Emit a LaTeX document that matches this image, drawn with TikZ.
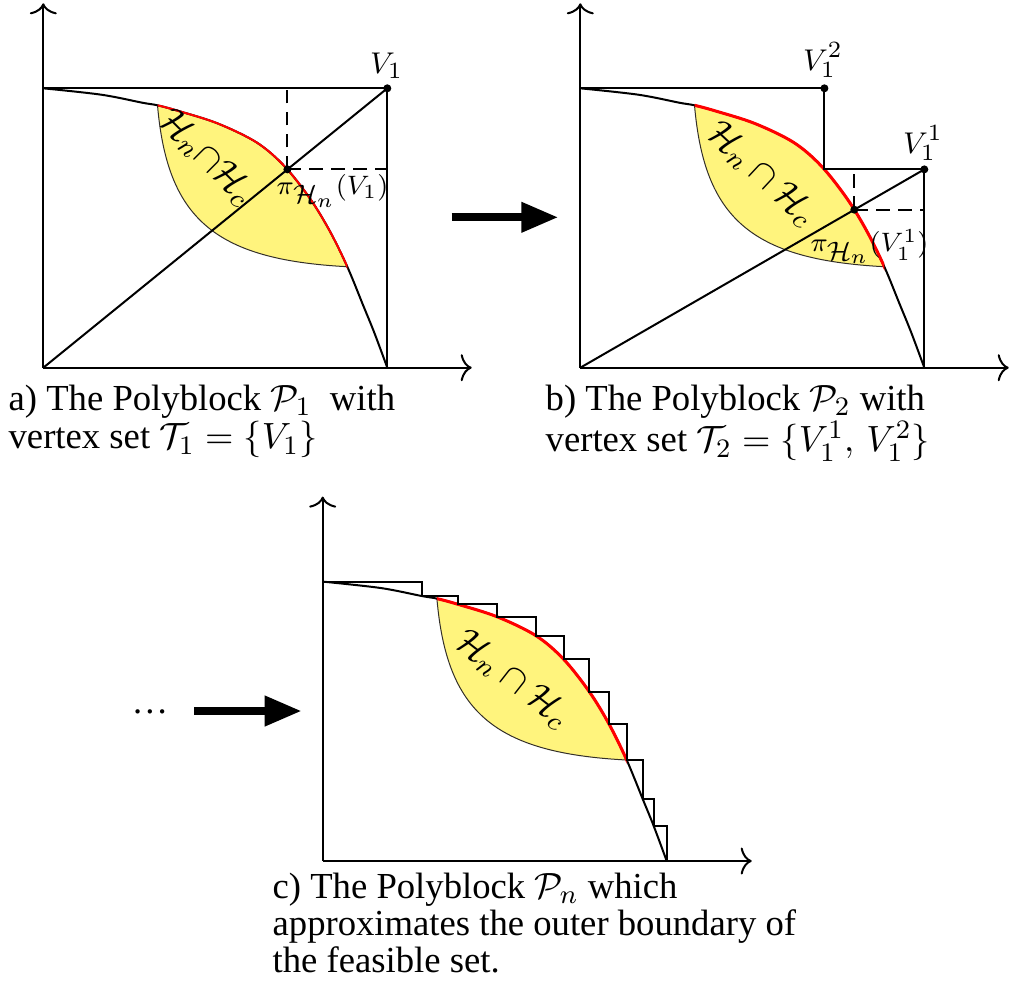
\documentclass[tikz,border=0pt]{standalone}
\usepackage[no-math]{fontspec}
\setmainfont{Liberation Serif}
\usetikzlibrary{arrows.meta,intersections,calc}
\definecolor{lensyellow}{RGB}{255,244,125}
\begin{document}
\begin{tikzpicture}[x=0.3pt,y=-0.3pt,
  axis/.style={line width=0.6pt,-{To[length=3.3pt,width=8.1pt]}},
  edge/.style={line width=0.6pt},
  dashline/.style={line width=0.6pt,dash pattern=on 4pt off 2.6pt},
  dot/.style={circle,fill=black,inner sep=0pt,minimum size=2.4pt},
  lensline/.style={line width=0.3pt,draw=black!85!olive},
  redline/.style={red,line width=0.9pt},
  bigarrow/.style={line width=2.4pt,-{Triangle[length=11.1pt,width=8.6pt]}},
  lbl/.style={inner sep=0pt,font=\fontsize{9.5}{11}\selectfont},
  plbl/.style={inner sep=0pt,font=\fontsize{8.5}{10}\selectfont},
  lenslbl/.style={inner sep=0pt,font=\fontsize{10.8}{13}\selectfont},
  captionbox/.style={inner sep=0pt,anchor=north west,align=left,font=\fontsize{11}{10}\selectfont},
  fullcurve/.style={insert path={plot[smooth,tension=0.55] coordinates {(0,279.4) (58,273) (99,265) (114.2,262.4) (135.3,256.7) (174.3,244.3) (213.3,225.3) (241,201.7) (266.6,169.3) (286.3,137) (304,101) (320,62) (331,35) (344,0)}}},
  lowercurve/.style={insert path={(114.2,262.4) .. controls (124,150) and (170,108) .. (304,101)}}
]
\useasboundingbox (0,0) rectangle (1009,994);

% ---------- panel a ----------
\begin{scope}[shift={(43.3,367.7)},yscale=-1]
  \coordinate (aO) at (0,0);
  \coordinate (aY) at (0,364.4);
  \coordinate (aX) at (428.4,0);
  \coordinate (aTL) at (0,279.4);
  \coordinate (aR) at (344,0);
  \begin{scope}
    \path[clip,fullcurve] -- (0,0) -- cycle;
    \fill[lensyellow,lowercurve] -- (304,320) -- (114.2,320) -- cycle;
  \end{scope}
  \draw[lensline,lowercurve];
  \draw[edge,fullcurve];
  \begin{scope}
    \clip (114.2,-10) rectangle (304,330);
    \draw[red,line width=0.6pt,fullcurve];
  \end{scope}
  \draw[axis] (aO) -- (aY);
  \draw[axis] (aO) -- (aX);
  \node[dot] (aV1) at (344,279.4) {};
  \draw[edge] (aTL) -- (aV1.center) -- (aR);
  \draw[edge] (aO) -- (aV1.center);
  \path[name path=acurve,fullcurve];
  \path[name path=adiag] (aO) -- (344,279.4);
  \path[name intersections={of=acurve and adiag,by=aP}];
  \draw[dashline] (aP) -- (aP |- aTL);
  \draw[dashline] (aP) -- (aP -| aR);
  \node[dot] (aPd) at (aP) {};
  \node[lbl] (aV1lab) at (343.4,301.7) {$V_1$};
  \node[plbl] (aPlab) at (289.2,176.7) {$\pi_{\textstyle\mathcal{H}_n}(V_1)$};
  \node[lenslbl,rotate=-45] (aLens) at (163.4,210.4) {$\mathcal{H}_n{\cap}\mathcal{H}_c$};
\end{scope}

% ---------- panel b ----------
\begin{scope}[shift={(580.3,367.7)},yscale=-1]
  \coordinate (bO) at (0,0);
  \coordinate (bY) at (0,364.4);
  \coordinate (bX) at (428.4,0);
  \coordinate (bTL) at (0,279.4);
  \coordinate (bR) at (344,0);
  \begin{scope}
    \path[clip,fullcurve] -- (0,0) -- cycle;
    \fill[lensyellow,lowercurve] -- (304,320) -- (114.2,320) -- cycle;
  \end{scope}
  \draw[lensline,lowercurve];
  \draw[edge,fullcurve];
  \begin{scope}
    \clip (114.2,-10) rectangle (304,330);
    \draw[redline,fullcurve];
  \end{scope}
  \draw[axis] (bO) -- (bY);
  \draw[axis] (bO) -- (bX);
  \path[name path=bcurve,fullcurve];
  \path[name path=bdiag1] (bO) -- (344,279.4);
  \path[name intersections={of=bcurve and bdiag1,by=bC}];
  \node[dot] (bV12) at (bC |- bTL) {};
  \node[dot] (bV11) at (bC -| bR) {};
  \draw[edge] (bTL) -- (bV12.center) -- (bC) -- (bV11.center) -- (bR);
  \draw[edge] (bO) -- (bV11.center);
  \path[name path=bdiag2] (bO) -- (bV11.center);
  \path[name intersections={of=bcurve and bdiag2,by=bP}];
  \draw[dashline] (bP) -- (bP |- bC);
  \draw[dashline] (bP) -- (bP -| bR);
  \node[dot] (bPd) at (bP) {};
  \node[lbl] (bV12lab) at (242.7,307.7) {$V_1^2$};
  \node[lbl] (bV11lab) at (342.7,224.7) {$V_1^1$};
  \node[plbl] (bPlab) at (289.2,121.2) {$\pi_{\textstyle\mathcal{H}_n}(V_1^1)$};
  \node[lenslbl,rotate=-43] (bLens) at (181.4,193.7) {$\mathcal{H}_n\cap\mathcal{H}_c$};
\end{scope}

% ---------- panel c ----------
\begin{scope}[shift={(322.7,861)},yscale=-1]
  \coordinate (cO) at (0,0);
  \coordinate (cY) at (0,364.4);
  \coordinate (cX) at (429,0);
  \begin{scope}
    \path[clip,fullcurve] -- (0,0) -- cycle;
    \fill[lensyellow,lowercurve] -- (304,320) -- (114.2,320) -- cycle;
  \end{scope}
  \draw[lensline,lowercurve];
  \draw[edge,fullcurve];
  \begin{scope}
    \clip (114.2,-10) rectangle (304,330);
    \draw[redline,fullcurve];
  \end{scope}
  \draw[axis] (cO) -- (cY);
  \draw[axis] (cO) -- (cX);
  \draw[edge] (0,279.4) -| (99,265) -| (135.3,256.7) -| (174.3,244.3) -| (213.3,225.3)
     -| (241,201.7) -| (266.6,169.3) -| (286.3,137) -| (304,101) -| (320,62)
     -| (331,35) -| (344,0);
  \node[lenslbl,rotate=-38] (cLens) at (189.8,181.8) {$\mathcal{H}_n\cap\mathcal{H}_c$};
\end{scope}

% ---------- arrows ----------
\coordinate (arr1s) at (451.7,217.3);
\coordinate (arr1e) at (558.3,217.3);
\draw[bigarrow] (arr1s) -- (arr1e);
\coordinate (arr2s) at (194,711);
\coordinate (arr2e) at (301.7,711);
\draw[bigarrow] (arr2s) -- (arr2e);
\node[inner sep=0pt,anchor=base,font=\fontsize{11}{13}\selectfont] (dots) at (150,713) {…};

% ---------- captions ----------
\node[captionbox] (capa) at (8,384) {a) The Polyblock $\mathcal{P}_1$ \ with\\vertex set $\mathcal{T}_1=\{V_1\}$};
\node[captionbox] (capb) at (545,384) {b) The Polyblock $\mathcal{P}_2$ with\\vertex set $\mathcal{T}_2=\{V_1^1,\,V_1^2\}$};
\node[captionbox] (capc) at (272,872) {c) The Polyblock $\mathcal{P}_n$ which\\approximates the outer boundary of\\the feasible set.};
\end{tikzpicture}
\end{document}
